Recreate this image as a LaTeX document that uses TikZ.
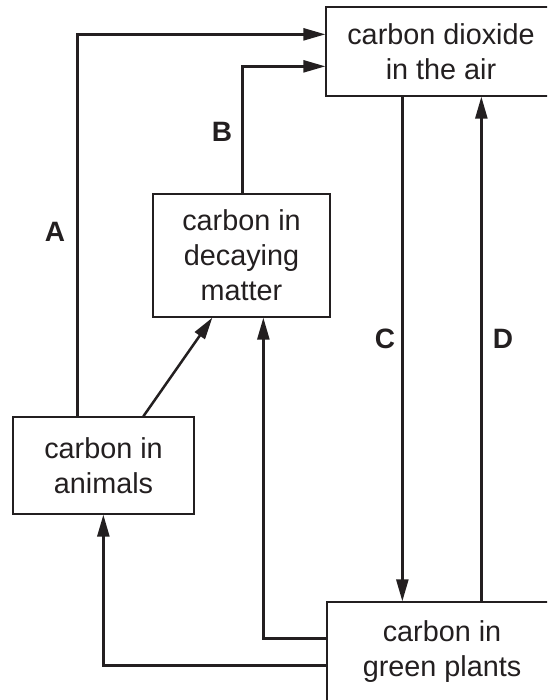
\documentclass[tikz,border=0pt]{standalone}
\usepackage{fontspec}
\setmainfont{Liberation Sans}
\usetikzlibrary{arrows.meta,calc}
\definecolor{ink}{HTML}{231F20}
\tikzset{
  box/.style={draw=ink, line width=1.3pt, rectangle, inner sep=0pt, align=center,
    text=ink, font=\fontsize{28.8}{35}\selectfont},
  flow/.style={draw=ink, line width=2.5pt,
    -{Triangle[length=22pt,width=12pt]}, line join=miter},
  tag/.style={text=ink, font=\fontsize{28}{34}\selectfont\bfseries, inner sep=0pt}
}
\begin{document}
\begin{tikzpicture}[x=1pt,y=-1pt]
  \clip (0,0) rectangle (547,700);
  \fill[white] (0,0) rectangle (547,700);

  % stores of carbon
  \node[box, minimum width=230pt, minimum height=89pt] (co2) at (441,51.5)
    {carbon dioxide\\in the air};
  \node[box, minimum width=177pt, minimum height=123pt] (decay) at (241.5,255.5)
    {carbon in\\decaying\\matter};
  \node[box, minimum width=181pt, minimum height=97pt] (animals) at (103.5,465.5)
    {carbon in\\animals};
  \node[box, minimum width=230pt, minimum height=100pt] (plants) at (442,652)
    {carbon in\\green plants};

  % attachment points
  \coordinate (aBot) at ($(animals.north west)+(65,0)$);
  \coordinate (aTip) at ($(co2.north west)+(0,28)$);
  \coordinate (bBot) at ($(decay.north west)+(90,0)$);
  \coordinate (bTip) at ($(co2.north west)+(0,60)$);
  \coordinate (cTop) at ($(co2.south west)+(77,0)$);
  \coordinate (dBot) at ($(plants.north west)+(155,0)$);
  \coordinate (eBot) at ($(animals.north west)+(131,0)$);
  \coordinate (eTip) at ($(decay.south west)+(60,0)$);
  \coordinate (fOut) at ($(plants.north west)+(0,37)$);
  \coordinate (fTip) at ($(decay.south west)+(111,0)$);
  \coordinate (gOut) at ($(plants.north west)+(0,64)$);
  \coordinate (gTip) at ($(animals.south west)+(91,0)$);

  % flows of carbon
  \draw[flow] (aBot) |- (aTip);
  \draw[flow] (bBot) |- (bTip);
  \draw[flow] (cTop) -- (cTop |- plants.north);
  \draw[flow] (dBot) -- (dBot |- co2.south);
  \draw[flow] (eBot) -- (eTip);
  \draw[flow] (fOut) -| (fTip);
  \draw[flow] (gOut) -| (gTip);

  % process labels
  \node[tag] (labA) at (55,232) {A};
  \node[tag] (labB) at (222,132) {B};
  \node[tag] (labC) at (385,339) {C};
  \node[tag] (labD) at (503,339) {D};
\end{tikzpicture}
\end{document}
